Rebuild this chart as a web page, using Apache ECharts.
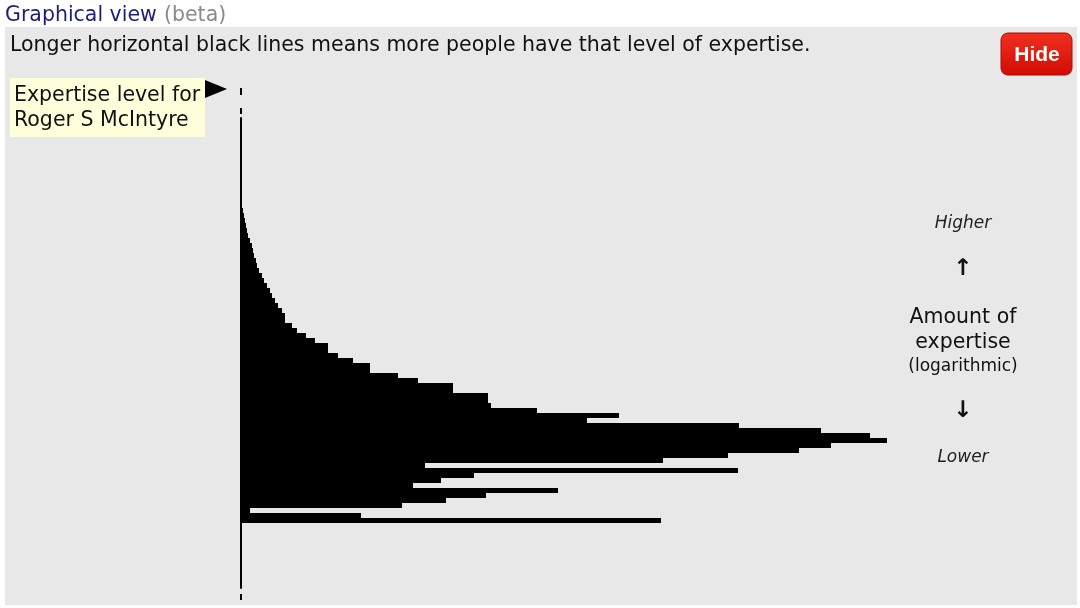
<!DOCTYPE html>
<html>
<head>
<meta charset="utf-8">
<style>
html, body { margin: 0; padding: 0; background: #fff; }
#main { width: 1080px; height: 608px; }  /* main必须设置宽和高 */
</style>
<script src="https://cdn.jsdelivr.net/npm/echarts@6/dist/echarts.min.js"></script>
</head>
<body>
<div id="main"></div>
<script>
// people at each expertise level, lowest level first (empty levels are null)
const emptyBelow = [null, null, null, null, null, null, null, null, null, null, null, null, null];
const peopleAtLevel = [
    420, 120, 9, 161, 205, 245, 317, 172, 200, 233,
    497, 184, 422, 487, 558, 590, 646, 629, 580, 498,
    346, 378, 296, 250, 247, 247, 212, 212, 177, 157,
    129, 129, 112, 97, 87, 87, 74, 65, 56, 51,
    44, 44, 41, 37, 34, 31, 29, 26, 23, 21,
    18, 16, 15, 13, 12, 11, 9, 7, 6, 5,
    4, 3, 2, 1
];
const emptyAbove = [null, null, null, null, null, null, null, null, null, null, null, null, null, null, null, null, null];
const values = emptyBelow.concat(peopleAtLevel, emptyAbove);
const levels = values.map((v, i) => 'L' + (i + 1));

const font = '"DejaVu Sans", Verdana, sans-serif';

const myChart = echarts.init(document.getElementById('main'));
myChart.setOption({
    animation: false,
    backgroundColor: '#fff',
    grid: { left: 241, top: 118, width: 660, height: 470 },
    xAxis: {
        type: 'value', min: 0, max: 660, show: false
    },
    yAxis: {
        type: 'category',
        data: levels,
        axisLine: { show: true, lineStyle: { color: '#000', width: 2 } },
        axisTick: { show: false },
        axisLabel: { show: false },
        splitLine: { show: false }
    },
    series: [{
        type: 'bar',
        data: values,
        barCategoryGap: '0%',
        itemStyle: { color: '#000' },
        silent: true
    }],
    graphic: [
        // grey panel
        { type: 'rect', z: -10, shape: { x: 5, y: 27, width: 1072, height: 578 }, style: { fill: '#e8e8e8' } },
        // heading
        { type: 'text', style: { x: 5, y: 16, text: 'Graphical view', font: '20.5px ' + font, fill: '#1e1e78', textVerticalAlign: 'middle' } },
        { type: 'text', style: { x: 164, y: 16, text: '(beta)', font: '20.5px ' + font, fill: '#8a8a8a', textVerticalAlign: 'middle' } },
        { type: 'text', style: { x: 10, y: 46, text: 'Longer horizontal black lines means more people have that level of expertise.', font: '20.5px ' + font, fill: '#111', textVerticalAlign: 'middle' } },
        // Hide button
        { type: 'rect', shape: { x: 1001, y: 33, width: 71, height: 42, r: 7 },
          style: { fill: new echarts.graphic.LinearGradient(0, 0, 0, 1, [{ offset: 0, color: '#f2301f' }, { offset: 1, color: '#d00c04' }]), stroke: '#b00800', lineWidth: 1 } },
        { type: 'text', style: { x: 1037, y: 55, text: 'Hide', font: 'bold 21px "Liberation Sans", Arial, sans-serif', fill: '#fff', textAlign: 'center', textVerticalAlign: 'middle' } },
        // label for the person
        { type: 'rect', shape: { x: 10, y: 78, width: 195, height: 59 }, style: { fill: '#ffffdc' } },
        { type: 'text', style: { x: 14, y: 96, text: 'Expertise level for', font: '20.5px ' + font, fill: '#111', textVerticalAlign: 'middle' } },
        { type: 'text', style: { x: 14, y: 121, text: 'Roger S McIntyre', font: '20.5px ' + font, fill: '#111', textVerticalAlign: 'middle' } },
        { type: 'polygon', shape: { points: [[205, 80], [227, 89], [205, 98]] }, style: { fill: '#000' } },
        // dashed ends of the axis
        { type: 'rect', shape: { x: 240, y: 88, width: 2, height: 7 }, style: { fill: '#000' } },
        { type: 'rect', shape: { x: 240, y: 108, width: 2, height: 6 }, style: { fill: '#000' } },
        { type: 'rect', shape: { x: 240, y: 594, width: 2, height: 6 }, style: { fill: '#000' } },
        // right side legend
        { type: 'text', style: { x: 963, y: 224, text: 'Higher', font: 'italic 17px ' + font, fill: '#222', textAlign: 'center', textVerticalAlign: 'middle' } },
        { type: 'text', style: { x: 963, y: 269, text: '↑', font: 'bold 23px ' + font, fill: '#111', textAlign: 'center', textVerticalAlign: 'middle' } },
        { type: 'text', style: { x: 963, y: 318, text: 'Amount of', font: '20.5px ' + font, fill: '#111', textAlign: 'center', textVerticalAlign: 'middle' } },
        { type: 'text', style: { x: 963, y: 343, text: 'expertise', font: '20.5px ' + font, fill: '#111', textAlign: 'center', textVerticalAlign: 'middle' } },
        { type: 'text', style: { x: 963, y: 367, text: '(logarithmic)', font: '17px ' + font, fill: '#111', textAlign: 'center', textVerticalAlign: 'middle' } },
        { type: 'text', style: { x: 963, y: 411, text: '↓', font: 'bold 23px ' + font, fill: '#111', textAlign: 'center', textVerticalAlign: 'middle' } },
        { type: 'text', style: { x: 963, y: 458, text: 'Lower', font: 'italic 17px ' + font, fill: '#222', textAlign: 'center', textVerticalAlign: 'middle' } }
    ]
});
</script>
</body>
</html>
